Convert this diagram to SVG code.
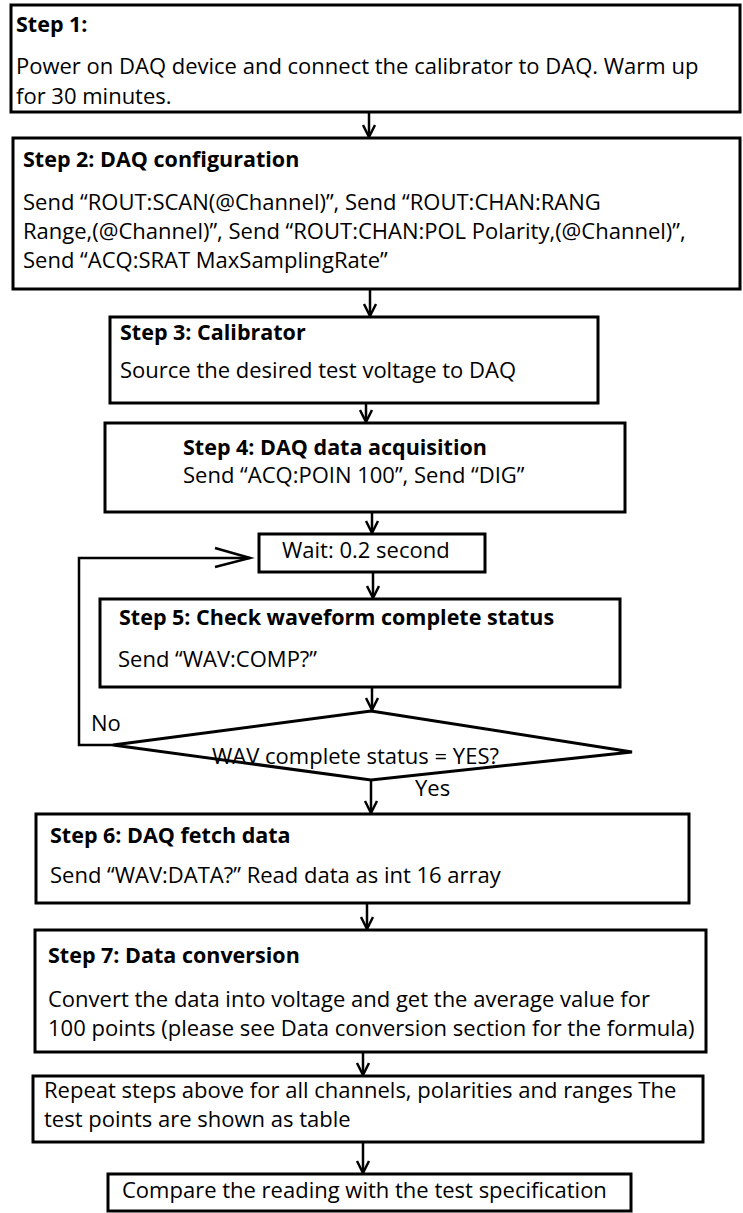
<svg xmlns="http://www.w3.org/2000/svg" width="743" height="1213" viewBox="0 0 743 1213">
<defs>
<style>
.box{fill:#fff;stroke:#000;stroke-width:3}
.t{font-family:"Open Sans","Noto Sans","Liberation Sans",sans-serif;font-size:22px;fill:#000}
.b{font-family:"Open Sans","Noto Sans","Liberation Sans",sans-serif;font-size:21.5px;font-weight:bold;fill:#000}
.c{fill:none;stroke:#000;stroke-width:2.5}
</style>
<marker id="ah" markerUnits="userSpaceOnUse" markerWidth="30" markerHeight="30" refX="0" refY="0" orient="auto" overflow="visible" viewBox="-15 -15 30 30">
<path d="M-12,-6 L0,0 L-12,6" fill="none" stroke="#000" stroke-width="2.5"/>
</marker>
<marker id="ahl" markerUnits="userSpaceOnUse" markerWidth="50" markerHeight="30" refX="0" refY="0" orient="auto" overflow="visible" viewBox="-40 -15 50 30">
<path d="M-35,-10 L0,0 L-35,9" fill="none" stroke="#000" stroke-width="2.5"/>
</marker>
</defs>
<rect width="743" height="1213" fill="#fff"/>
<g id="connectors">
<line class="c" x1="369" y1="112" x2="369" y2="137" marker-end="url(#ah)"/>
<line class="c" x1="370" y1="289" x2="370" y2="316" marker-end="url(#ah)"/>
<line class="c" x1="366" y1="403" x2="366" y2="422" marker-end="url(#ah)"/>
<line class="c" x1="372" y1="512" x2="372" y2="533" marker-end="url(#ah)"/>
<line class="c" x1="373" y1="572" x2="373" y2="598" marker-end="url(#ah)"/>
<line class="c" x1="372" y1="687" x2="372" y2="710" marker-end="url(#ah)"/>
<line class="c" x1="371" y1="780" x2="371" y2="813" marker-end="url(#ah)"/>
<line class="c" x1="367" y1="903" x2="367" y2="929" marker-end="url(#ah)"/>
<line class="c" x1="363" y1="1052" x2="363" y2="1075" marker-end="url(#ah)"/>
<line class="c" x1="363" y1="1142" x2="363" y2="1173" marker-end="url(#ah)"/>
<polyline class="c" points="113,745 79,745 79,558 250,558" marker-end="url(#ahl)"/>
<text class="t" x="91" y="731">No</text>
<text class="t" x="415" y="796">Yes</text>
</g>
<g id="step1">
<rect class="box" x="11" y="5" width="729" height="107"/>
<text class="b" x="16" y="32">Step 1:</text>
<text class="t" x="16" y="74">Power on DAQ device and connect the calibrator to DAQ. Warm up</text>
<text class="t" x="16" y="104">for 30 minutes.</text>
</g>
<g id="step2">
<rect class="box" x="13" y="138" width="727" height="151"/>
<text class="b" x="23" y="167">Step 2: DAQ configuration</text>
<text class="t" x="23" y="210">Send “ROUT:SCAN(@Channel)”, Send “ROUT:CHAN:RANG</text>
<text class="t" x="23" y="239">Range,(@Channel)”, Send “ROUT:CHAN:POL Polarity,(@Channel)”,</text>
<text class="t" x="23" y="268">Send “ACQ:SRAT MaxSamplingRate”</text>
</g>
<g id="step3">
<rect class="box" x="110" y="317" width="488" height="86"/>
<text class="b" x="120" y="340">Step 3: Calibrator</text>
<text class="t" x="120" y="378">Source the desired test voltage to DAQ</text>
</g>
<g id="step4">
<rect class="box" x="105" y="423" width="520" height="89"/>
<text class="b" x="183" y="455">Step 4: DAQ data acquisition</text>
<text class="t" x="183" y="483">Send “ACQ:POIN 100”, Send “DIG”</text>
</g>
<g id="wait">
<rect class="box" x="259" y="534" width="226" height="38"/>
<text class="t" x="282" y="558">Wait: 0.2 second</text>
</g>
<g id="step5">
<rect class="box" x="100" y="599" width="520" height="88"/>
<text class="b" x="119" y="625">Step 5: Check waveform complete status</text>
<text class="t" x="118" y="667">Send “WAV:COMP?”</text>
</g>
<g id="decision">
<polygon class="box" points="371,711 632,752 371,780 113,745"/>
<text class="t" x="212" y="764">WAV complete status = YES?</text>
</g>
<g id="step6">
<rect class="box" x="36" y="814" width="653" height="89"/>
<text class="b" x="50" y="843">Step 6: DAQ fetch data</text>
<text class="t" x="50" y="883">Send “WAV:DATA?” Read data as int 16 array</text>
</g>
<g id="step7">
<rect class="box" x="35" y="930" width="671" height="122"/>
<text class="b" x="48" y="963">Step 7: Data conversion</text>
<text class="t" x="48" y="1007">Convert the data into voltage and get the average value for</text>
<text class="t" x="48" y="1036">100 points (please see Data conversion section for the formula)</text>
</g>
<g id="repeat">
<rect class="box" x="33" y="1076" width="670" height="66"/>
<text class="t" x="44" y="1098">Repeat steps above for all channels, polarities and ranges The</text>
<text class="t" x="44" y="1127">test points are shown as table</text>
</g>
<g id="compare">
<rect class="box" x="108" y="1174" width="523" height="37"/>
<text class="t" x="122" y="1198">Compare the reading with the test specification</text>
</g>
</svg>
